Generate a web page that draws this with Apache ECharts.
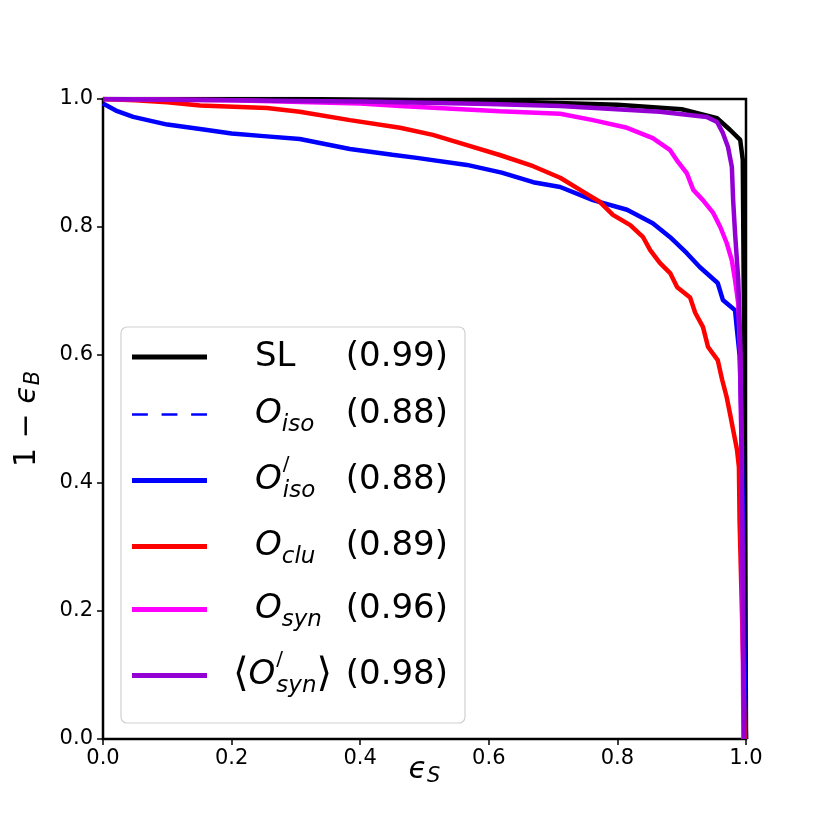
<!DOCTYPE html>
<html lang="en">

<head>
    <meta charset="UTF-8">
    <title>ROC</title>
    <style>
        html, body { margin: 0; padding: 0; background: #fff; }
        .box { width: 830px; height: 830px; }
    </style>
    <script src="https://cdn.jsdelivr.net/npm/echarts@6/dist/echarts.min.js"></script>
</head>

<body>
    <div class="box"></div>
    <script>
        // ROC curves, x = eps_S, y = 1 - eps_B
        const slX = [0, 0.3, 0.6, 0.8, 0.9, 0.955, 0.975, 0.991, 0.995, 0.998, 1.0];
        const slY = [1.0, 1.0, 0.997, 0.991, 0.984, 0.970, 0.952, 0.936, 0.905, 0.5, 0.0];

        const isoX = [0, 0.02, 0.047, 0.1, 0.151, 0.2, 0.25, 0.306, 0.384, 0.45, 0.488, 0.566, 0.62, 0.669, 0.711, 0.762, 0.815, 0.855, 0.882, 0.908, 0.928, 0.956, 0.964, 0.983, 0.986, 0.990, 0.993, 0.996, 0.998, 1.0];
        const isoY = [0.993, 0.982, 0.972, 0.96, 0.953, 0.946, 0.942, 0.9375, 0.922, 0.913, 0.908, 0.897, 0.885, 0.870, 0.8625, 0.842, 0.827, 0.806, 0.784, 0.759, 0.7375, 0.7125, 0.686, 0.670, 0.639, 0.6, 0.5, 0.3, 0.1, 0.0];

        const cluX = [0, 0.05, 0.1, 0.151, 0.255, 0.306, 0.384, 0.462, 0.513, 0.566, 0.617, 0.669, 0.711, 0.742, 0.773, 0.793, 0.820, 0.840, 0.851, 0.866, 0.882, 0.893, 0.913, 0.921, 0.933, 0.941, 0.956, 0.963, 0.970, 0.975, 0.980, 0.986, 0.989, 0.990, 0.992, 0.994, 0.996, 0.998];
        const cluY = [1.0, 0.998, 0.995, 0.99, 0.986, 0.98, 0.967, 0.955, 0.944, 0.928, 0.9125, 0.895, 0.877, 0.858, 0.839, 0.819, 0.803, 0.784, 0.764, 0.744, 0.728, 0.706, 0.69, 0.666, 0.644, 0.6125, 0.592, 0.561, 0.534, 0.509, 0.483, 0.452, 0.425, 0.342, 0.264, 0.186, 0.108, 0.0];

        const synX = [0, 0.2, 0.4, 0.462, 0.617, 0.711, 0.762, 0.815, 0.855, 0.882, 0.894, 0.908, 0.918, 0.933, 0.949, 0.96, 0.970, 0.978, 0.983, 0.988, 0.991, 0.993, 0.994, 0.995, 0.996];
        const synY = [1.0, 0.998, 0.993, 0.989, 0.981, 0.977, 0.967, 0.955, 0.939, 0.920, 0.902, 0.884, 0.858, 0.842, 0.822, 0.80, 0.775, 0.748, 0.717, 0.68, 0.6, 0.45, 0.3, 0.15, 0.0];

        const synMeanX = [0, 0.1, 0.2, 0.3, 0.4, 0.5, 0.6, 0.711, 0.866, 0.939, 0.955, 0.964, 0.972, 0.978, 0.980, 0.983, 0.988, 0.991, 0.993, 0.995, 0.997];
        const synMeanY = [1.0, 0.999, 0.998, 0.997, 0.996, 0.994, 0.992, 0.989, 0.98, 0.972, 0.964, 0.947, 0.925, 0.894, 0.842, 0.79, 0.717, 0.62, 0.45, 0.2, 0.0];

        // legend labels (rich text) and AUC values
        const names = ['SL', 'Oiso', 'Oiso2', 'Oclu', 'Osyn', 'Osyn2'];
        const aucs = ['(0.99)', '(0.88)', '(0.88)', '(0.89)', '(0.96)', '(0.98)'];
        const labels = [
            '{sp1| }{rm|SL}',
            '{sp1| }{it|O}{sub|iso}',
            '{sp1| }{it|O}{pr|/}{sub|iso}',
            '{sp1| }{it|O}{sub|clu}',
            '{sp1| }{it|O}{sub|syn}',
            '{sp2| }{br|⟨}{it|O}{pr|/}{sub|syn}{br|⟩}'
        ];

        function pairs(xs, ys) {
            return xs.map((x, i) => [x, ys[i]]);
        }

        const font = 'DejaVu Sans';
        const chart = echarts.init(document.querySelector('.box'), null, { renderer: 'canvas' });

        function line(name, xs, ys, color, width, type) {
            return {
                name: name,
                type: 'line',
                data: pairs(xs, ys),
                symbol: 'none',
                silent: true,
                animation: false,
                lineStyle: { color: color, width: width, type: type || 'solid' },
                itemStyle: { color: color }
            };
        }

        const axisCommon = {
            type: 'value',
            min: 0,
            max: 1,
            interval: 0.2,
            splitLine: { show: false },
            axisLine: { show: false },
            axisTick: { show: true, inside: false, length: 6, lineStyle: { color: '#000', width: 1.5 } },
            axisLabel: {
                color: '#000', fontFamily: font, fontSize: 21,
                formatter: v => v.toFixed(1)
            }
        };

        const legendRich = {
            sp1: { fontSize: 10, width: 43 },
            sp2: { fontSize: 10, width: 21 },
            rm: { fontFamily: font, fontSize: 34, color: '#000', lineHeight: 34 },
            it: { fontFamily: font, fontSize: 34, color: '#000', fontStyle: 'italic', lineHeight: 34 },
            sub: { fontFamily: font, fontSize: 23, color: '#000', fontStyle: 'italic', lineHeight: 23, padding: [22, 0, 0, 0] },
            pr: { fontFamily: font, fontSize: 20, color: '#000', width: 0, lineHeight: 20, padding: [0, 0, 31, 1] },
            br: { fontFamily: font, fontSize: 40, color: '#000', lineHeight: 40 },
            num: { fontFamily: font, fontSize: 34, color: '#000', lineHeight: 34, align: 'right' }
        };

        const solidIcon = 'rect';
        const dashIcon = 'path://M0,0h15v2.4h-15z M28,0h15v2.4h-15z M56,0h15v2.4h-15z';

        const option = {
            backgroundColor: '#fff',
            animation: false,
            grid: {
                left: 103, right: 84, top: 99, bottom: 91,
                show: true, borderColor: '#000', borderWidth: 2.5, backgroundColor: 'transparent'
            },
            xAxis: Object.assign({}, axisCommon, {
                name: '{e|ϵ}{s|S}',
                nameLocation: 'middle',
                nameGap: 14,
                nameMoveOverlap: false,
                nameTextStyle: {
                    rich: {
                        e: { fontFamily: font, fontSize: 30, color: '#000', fontStyle: 'italic', lineHeight: 34 },
                        s: { fontFamily: font, fontSize: 21, color: '#000', fontStyle: 'italic', lineHeight: 21, padding: [14, 0, 0, 0] }
                    }
                },
                axisLabel: Object.assign({}, axisCommon.axisLabel, { margin: 9 })
            }),
            yAxis: Object.assign({}, axisCommon, {
                name: '{n|1 − }{e|ϵ}{s|B}',
                nameLocation: 'middle',
                nameRotate: 90,
                nameGap: 58,
                nameTextStyle: {
                    rich: {
                        n: { fontFamily: font, fontSize: 30, color: '#000', lineHeight: 36 },
                        e: { fontFamily: font, fontSize: 30, color: '#000', fontStyle: 'italic', lineHeight: 36 },
                        s: { fontFamily: font, fontSize: 21, color: '#000', fontStyle: 'italic', lineHeight: 21, padding: [14, 0, 0, 0] }
                    }
                },
                axisLabel: Object.assign({}, axisCommon.axisLabel, { margin: 10 })
            }),
            legend: {
                orient: 'vertical',
                left: 121,
                top: 327,
                padding: [13, 17, 22, 11],
                itemWidth: 75,
                itemHeight: 5,
                itemGap: 18,
                backgroundColor: '#fff',
                borderColor: '#d0d0d0',
                borderWidth: 1.2,
                borderRadius: 6,
                selectedMode: false,
                data: names.map(n => ({ name: n, icon: n === 'Oiso' ? dashIcon : solidIcon })),
                formatter: name => {
                    const i = names.indexOf(name);
                    return labels[i] + '{num|' + aucs[i] + '}';
                },
                textStyle: {
                    width: 236,
                    fontFamily: font,
                    fontSize: 34,
                    color: '#000',
                    rich: legendRich
                }
            },
            series: [
                line('SL', slX, slY, '#000000', 4.5),
                line('Oiso', isoX, isoY, '#0000ff', 2.5, [9, 12]),
                line('Oiso2', isoX, isoY, '#0000ff', 4.5),
                line('Oclu', cluX, cluY, '#ff0000', 4.5),
                line('Osyn', synX, synY, '#ff00ff', 4.5),
                line('Osyn2', synMeanX, synMeanY, '#9400d3', 4.5)
            ]
        };

        chart.setOption(option);
    </script>
</body>

</html>
